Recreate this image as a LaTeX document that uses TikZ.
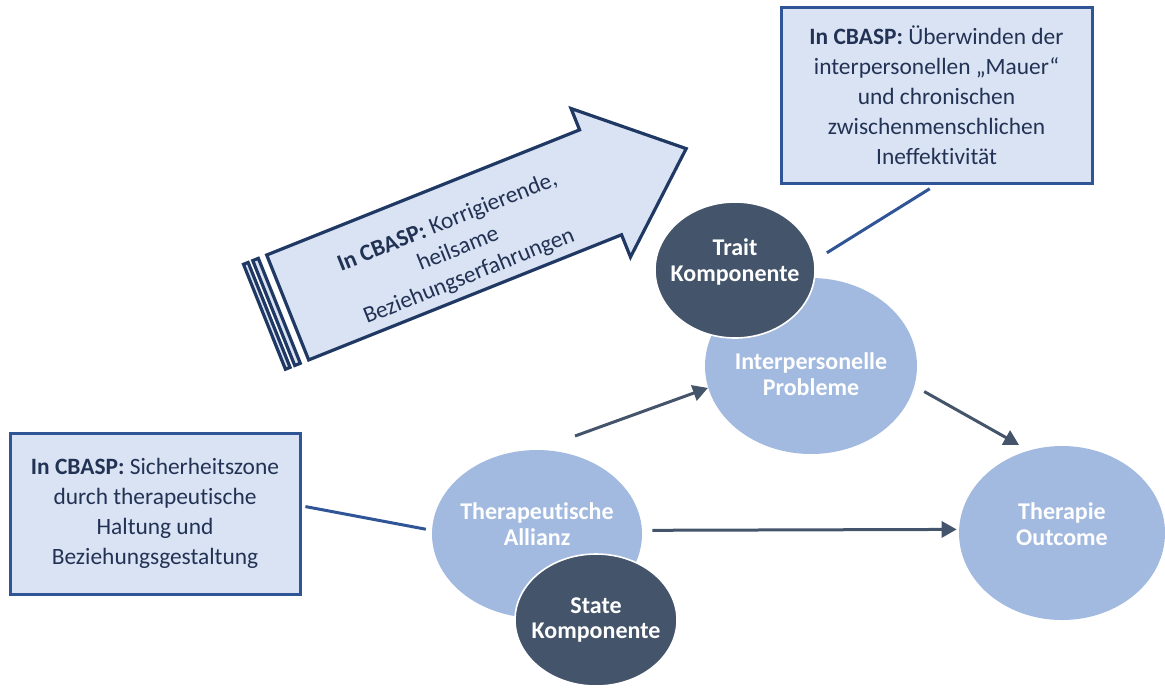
\documentclass[tikz,border=0pt]{standalone}
\usepackage{fontspec}
\setmainfont{Carlito}[Ligatures=NoCommon]
\usetikzlibrary{shapes.geometric, arrows.meta}
\definecolor{boxblue}{RGB}{218,227,243}
\definecolor{lineblue}{RGB}{47,85,151}
\definecolor{navy}{RGB}{31,56,100}
\definecolor{ellblue}{RGB}{162,185,224}
\definecolor{slate}{RGB}{68,84,106}
\definecolor{textnavy}{RGB}{34,50,84}

\begin{document}
\begin{tikzpicture}[x=0.5pt, y=-0.5pt,
    infobox/.style={rectangle, draw=lineblue, fill=boxblue, line width=1.5pt, inner sep=0pt,
                    align=center, text=textnavy, font=\fontsize{11.7}{15}\selectfont},
    bigarrow/.style={draw=navy, fill=boxblue, line width=1.6pt, line join=miter},
    lightell/.style={ellipse, fill=ellblue, inner sep=0pt},
    darkell/.style={lightell, fill=slate, draw=white, line width=0.8pt},
    elltext/.style={align=center, text=white, font=\fontsize{12}{12.8}\selectfont\bfseries},
    arr/.style={-{Triangle[length=7.5pt, width=8pt]}, line width=1.5pt, slate},
    link/.style={line width=1.5pt, lineblue}
  ]
  \useasboundingbox (0,0) rectangle (1165,687);

  % block arrow
  \begin{scope}[shift={(266.7,255)}, rotate=21.8]
    \draw[bigarrow] (0,0) -- (337,0) -- (337,-23) -- (429,57) -- (337,137) -- (337,113) -- (0,113) -- cycle;
    \draw[bigarrow] (-25,0) rectangle (-20,113);
    \draw[bigarrow] (-15,0) rectangle (-9,113);
    \node[rotate=21.8, align=center, text=textnavy, font=\fontsize{11.7}{14.6}\selectfont] (arrtext) at (180,66)
      {\textbf{In CBASP:} Korrigierende,\\heilsame\\Beziehungserfahrungen};
  \end{scope}

  \node[infobox, minimum width=155.5pt, minimum height=88pt] (ubox) at (936.5,95)
    {\textbf{In CBASP:} Überwinden der\\interpersonellen „Mauer“\\und chronischen\\zwischenmenschlichen\\Ineffektivität};
  \node[infobox, minimum width=145pt, minimum height=80.5pt] (sbox) at (155,513.5)
    {\textbf{In CBASP:} Sicherheitszone\\durch therapeutische\\Haltung und\\Beziehungsgestaltung};

  \node[lightell, minimum width=106pt, minimum height=88pt,
        label={[elltext, yshift=-4pt]center:{Interpersonelle\\Probleme}}] (inter) at (811,366) {};
  \node[darkell, minimum width=80pt, minimum height=68pt,
        label={[elltext, yshift=4pt]center:{Trait\\Komponente}}] (trait) at (735,270) {};
  \node[lightell, minimum width=105pt, minimum height=84pt,
        label={[elltext, yshift=5pt]center:{Therapeutische\\Allianz}}] (allianz) at (537,534) {};
  \node[darkell, minimum width=81pt, minimum height=66pt,
        label={[elltext]center:{State\\Komponente}}] (state) at (596,620) {};
  \node[lightell, minimum width=103pt, minimum height=87pt,
        label={[elltext, yshift=4.5pt]center:{Therapie\\Outcome}}] (outcome) at (1062,533) {};

  \coordinate (allianzout) at (575,436);
  \draw[arr] (allianzout) -- (inter.192);
  \draw[arr, shorten <=5.5pt, shorten >=5.5pt] (inter.-11) -- (outcome.112);
  \draw[arr, shorten <=5pt, shorten >=1pt] (allianz.2) -- (outcome.178);

  \draw[link, shorten <=2pt, shorten >=3pt] (sbox.3) -- (allianz.178);
  \draw[link, shorten <=7pt, shorten >=4pt] (trait.7) -- (ubox.south);
\end{tikzpicture}
\end{document}
